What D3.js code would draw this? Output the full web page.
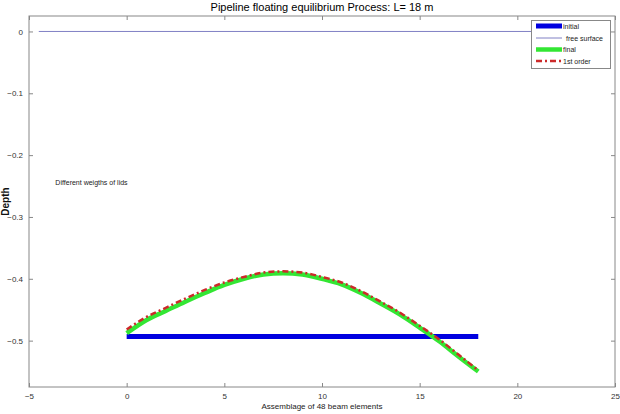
<!DOCTYPE html>
<html><head><meta charset="utf-8">
<script src="https://cdn.jsdelivr.net/npm/d3@7/dist/d3.min.js"></script>
<style>body{margin:0;background:#fff;overflow:hidden}svg{display:block;font-family:"Liberation Sans",Arial,sans-serif}</style>
</head><body><svg id="c" width="620" height="414"></svg>
<script>
const xTicks = [-5, 0, 5, 10, 15, 20, 25];
const yTicks = [0, -0.1, -0.2, -0.3, -0.4, -0.5];
const xPos = [0,1,2,3,4,5,6,7,8,9,10,11,12,13,14,15,16,17,18];
const initialY = [-0.4935,-0.4935,-0.4935,-0.4935,-0.4935,-0.4935,-0.4935,-0.4935,-0.4935,-0.4935,-0.4935,-0.4935,-0.4935,-0.4935,-0.4935,-0.4935,-0.4935,-0.4935,-0.4935];
const finalY = [-0.488,-0.467,-0.452,-0.437,-0.423,-0.410,-0.400,-0.393,-0.391,-0.393,-0.400,-0.409,-0.423,-0.440,-0.458,-0.479,-0.501,-0.526,-0.550];
const firstOrderY = [-0.482,-0.462,-0.447,-0.432,-0.418,-0.406,-0.397,-0.390,-0.388,-0.390,-0.397,-0.406,-0.420,-0.437,-0.455,-0.476,-0.498,-0.523,-0.548];
const surfaceX = [-4.5, 24.5];
const surfaceY = [0, 0];
const legendLabels = ["initial", "free surface", "final", "1st order"];

const svg = d3.select("#c");
const L = 29, R = 615, T = 16, B = 387;
const x = d3.scaleLinear().domain([-5, 25]).range([L, R]);
const y = d3.scaleLinear().domain([-0.575, 0.025]).range([B, T]);
const axisColor = "#888";

svg.append("rect").attr("x", L).attr("y", T).attr("width", R - L).attr("height", B - T)
  .attr("fill", "#fff").attr("stroke", axisColor).attr("stroke-width", 1);

function styleAxis(g, hideText) {
  g.select(".domain").remove();
  g.selectAll(".tick line").attr("stroke", axisColor);
  g.selectAll(".tick text").attr("fill", "#333").style("font-size", "8px")
   .style("font-family", '"Liberation Sans",Arial,sans-serif');
  if (hideText) g.selectAll(".tick text").remove();
}
svg.append("g").attr("transform", `translate(0,${B})`)
  .call(d3.axisBottom(x).tickValues(xTicks).tickFormat(d3.format("d")).tickSize(-4).tickPadding(6))
  .call(g => styleAxis(g, false));
svg.append("g").attr("transform", `translate(0,${T})`)
  .call(d3.axisTop(x).tickValues(xTicks).tickSize(-4)).call(g => styleAxis(g, true));
svg.append("g").attr("transform", `translate(${L},0)`)
  .call(d3.axisLeft(y).tickValues(yTicks).tickFormat(d => d === 0 ? "0" : d3.format(".1f")(d)).tickSize(-4).tickPadding(6))
  .call(g => styleAxis(g, false));
svg.append("g").attr("transform", `translate(${R},0)`)
  .call(d3.axisRight(y).tickValues(yTicks).tickSize(-4)).call(g => styleAxis(g, true));

const line = d3.line().x(d => x(d[0])).y(d => y(d[1]));
const zip = (a, b) => a.map((v, i) => [v, b[i]]);

svg.append("path").datum(zip(surfaceX, surfaceY)).attr("d", line)
  .attr("fill", "none").attr("stroke", "#8080c4").attr("stroke-width", 1);
svg.append("path").datum(zip(xPos, initialY)).attr("d", line)
  .attr("fill", "none").attr("stroke", "#0000e0").attr("stroke-width", 5);
svg.append("path").datum(zip(xPos, finalY)).attr("d", line.curve(d3.curveMonotoneX))
  .attr("fill", "none").attr("stroke", "#33e633").attr("stroke-width", 4.5);
svg.append("path").datum(zip(xPos, firstOrderY)).attr("d", line.curve(d3.curveMonotoneX))
  .attr("fill", "none").attr("stroke", "#cc2a2a").attr("stroke-width", 2.5)
  .attr("stroke-dasharray", "6,3,2,3");

svg.append("text").attr("x", (L + R) / 2).attr("y", 11).attr("text-anchor", "middle")
  .style("font-size", "11px").attr("fill", "#000").text("Pipeline floating equilibrium Process: L= 18 m");
svg.append("text").attr("x", (L + R) / 2).attr("y", 409).attr("text-anchor", "middle")
  .style("font-size", "8px").attr("fill", "#222").text("Assemblage of 48 beam elements");
svg.append("text").attr("transform", `translate(9,${(T + B) / 2}) rotate(-90)`).attr("text-anchor", "middle")
  .style("font-size", "10px").style("font-weight", "bold").attr("fill", "#111").text("Depth");
svg.append("text").attr("x", x(-3.65)).attr("y", y(-0.248)).style("font-size", "7px")
  .attr("fill", "#222").text("Different weigths of lids");

const lg = svg.append("g");
lg.append("rect").attr("x", 531.5).attr("y", 20.5).attr("width", 79).attr("height", 48)
  .attr("fill", "#fff").attr("stroke", axisColor);
const legStyles = [
  {c: "#0000e0", w: 5, d: null},
  {c: "#8080c4", w: 1, d: null},
  {c: "#33e633", w: 4.5, d: null},
  {c: "#cc2a2a", w: 2.5, d: "6,3,2,3"}
];
const legY = [26, 38, 49.5, 61];
legendLabels.forEach((t, i) => {
  const s = legStyles[i];
  lg.append("line").attr("x1", 536).attr("x2", 562).attr("y1", legY[i]).attr("y2", legY[i])
    .attr("stroke", s.c).attr("stroke-width", s.w).attr("stroke-dasharray", s.d);
  lg.append("text").attr("x", i === 1 ? 566 : 563).attr("y", legY[i] + 2.5).style("font-size", "7px")
    .attr("fill", "#222").text(t);
});
</script></body></html>
